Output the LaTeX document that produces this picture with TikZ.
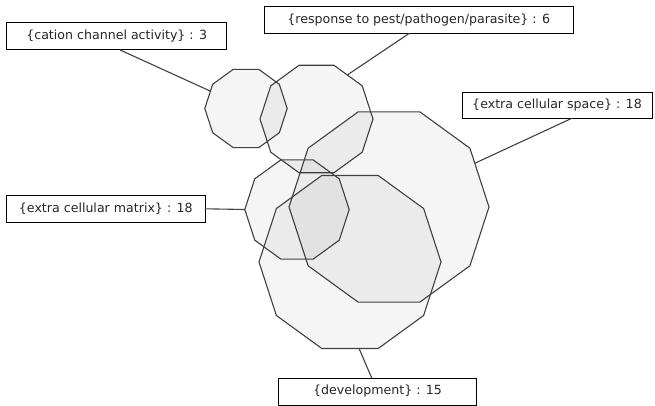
\documentclass[tikz,border=0pt]{standalone}
\usepackage{fontspec}
\setmainfont{DejaVu Sans}
\usetikzlibrary{shapes.geometric}
\begin{document}
\begin{tikzpicture}[x=1pt,y=-1pt,
  venn/.style={regular polygon, regular polygon sides=10, draw=black!75, line width=1.1pt,
    fill=black, fill opacity=0.038, draw opacity=1, inner sep=0pt, outer sep=0pt},
  lbl/.style={draw=black, line width=0.9pt, fill=white, inner sep=0pt, outer sep=0pt,
    font=\fontsize{12.6}{14}\selectfont, text=black!85},
  link/.style={draw=black!75, line width=1.1pt}]
\useasboundingbox (0,0) rectangle (655,406);
% polygons
\node[venn, minimum size=82.4pt] (cat) at (246,108.5) {};
\node[venn, minimum size=113pt] (resp) at (316.5,119) {};
\node[venn, minimum size=200pt] (ecs) at (389,207) {};
\node[venn, minimum size=104.4pt] (mat) at (297,209.5) {};
\node[venn, minimum size=182pt] (dev) at (350,262) {};
% labels
\node[lbl, minimum width=220pt, minimum height=27.3pt] (lcat) at (116.7,36.3) {\{cation channel activity\} : 3};
\node[lbl, minimum width=309.3pt, minimum height=27.3pt] (lresp) at (418.7,19.7) {\{response to pest/pathogen/parasite\} : 6};
\node[lbl, minimum width=190pt, minimum height=26.3pt] (lecs) at (557,105.2) {\{extra cellular space\} : 18};
\node[lbl, minimum width=198.3pt, minimum height=27.7pt] (lmat) at (105.8,208.8) {\{extra cellular matrix\} : 18};
\node[lbl, minimum width=198.4pt, minimum height=27pt] (ldev) at (377.5,391.5) {\{development\} : 15};
% connectors
\draw[link] ([xshift=3.3pt]lcat.south) -- (cat.154);
\draw[link] ([xshift=-9.4pt]lresp.south) -- (resp.55);
\draw[link] ([xshift=14.7pt]lecs.south) -- (ecs.27);
\draw[link] (lmat.east) -- (mat.west);
\draw[link] ([xshift=-5.8pt]ldev.north) -- (dev.276);
\end{tikzpicture}
\end{document}
